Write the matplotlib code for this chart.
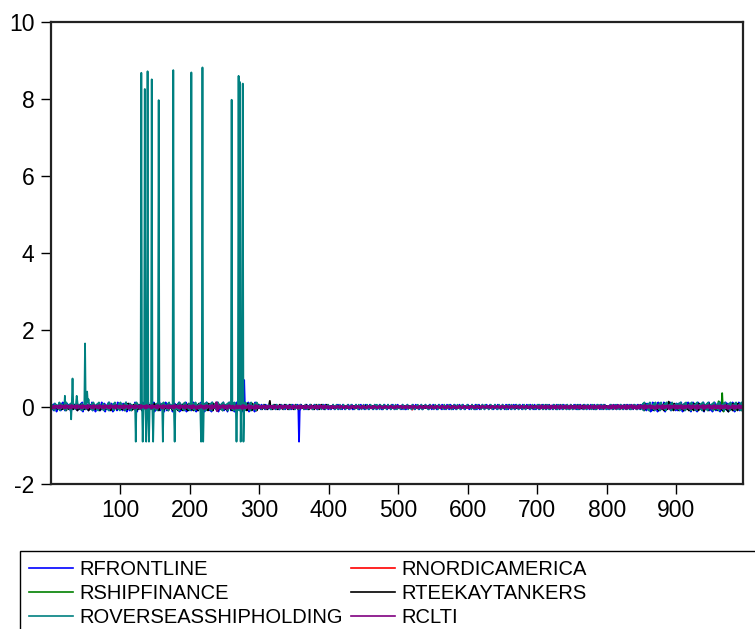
import numpy as np
import matplotlib
matplotlib.use("Agg")
import matplotlib.pyplot as plt
from matplotlib.patches import Rectangle

# ------------------------------------------------------------
# Data: daily returns of six shipping stocks, obs 1..995
# Noise is typed as digit strings (digit 5 = 0), one char per obs,
# scaled per series; the large moves are listed separately.
# ------------------------------------------------------------
N = 995

names = ["RFRONTLINE", "RNORDICAMERICA", "RSHIPFINANCE",
         "RTEEKAYTANKERS", "ROVERSEASSHIPHOLDING", "RCLTI"]
colors = ["#0000FF", "#FF0000", "#008000", "#000000", "#008080", "#800080"]

frontline_noise = [
    "5372846155736284956273847562193847566253748291657384625573928461573846259374816573924685173846295738",
    "4628375916482735647392815647382956471829365748291637485926374815962738475619283746591827364859172635",
    "6283947516273849562718394657281936475829163748592637418596273841569273845619287354691827364519283746",
    "5374665374435746356645374653374556473645537463574436657453374665543746357446537564335746657435746635",
    "4635575346647355463765344657356473354675463357465534756435746653475536447563354765437556346754356475",
    "5546374563357465543674537546635475346574453675534765463357465374563457653476543576345567435674536457",
    "6354475635743567345675436574534765543675437565346754357463574536475374653754637546357465374563475364",
    "4735647365473564735463746537465374635746537463574635746357463754637465374635746537463574635746357463",
    "5463746537465374635746537463574635746357463754637465374628374615293847561928374659218374659283746528",
    "6284739516283745962817394652819374658291736485927361849527384619527384962817354692817364592837461928",
]
nordic_noise = [
    "5465546455645365465546456355465546455645536546554645563554654645564553654655464556355465464556455365",
    "4655463556456546355465546455635546546455653546455645536546554645563554654645564553654655464556355465",
    "5546455635546546455653546455645536546554645563554654645564553654655464556355465464556455365465546456",
    "5564554655465546455645546556455465546455645546556455465546455645546556455465546455645546556455465546",
    "5455465546556455465545655465545655465546556455465545655465545655465546556455465545655465545655465546",
    "5546556455465545655465545655465546556455465545655465545655465546556455465545655465545655465546556455",
    "4655465545655465546556455465545655465545655465546556455465545655465545655465546556455465545655465545",
    "5546455635546546455653546455645536546554645563554654645564553654655464556355465464556455365465546456",
    "4655463556456546355465546455635546546455653546455645536546554645563554654645564553654655464556355465",
    "5465546455645365465546456355465546455645536546554645563554654645564553654655464556355465464556455365",
]
shipfinance_noise = [
    "5364756453647564536475643657465364756436574653647564365746536475643657465364756436574653647564365746",
    "4657365463746536475463756453647563546375645364756354637564536475635463756453647563546375645364756354",
    "5463746536475463756453647563546375645364756354637564536475635463756453647563546375645364756354637564",
    "5546455645546465545654646554564554655456465545645546556454655464554656455465546456545655465464554654",
    "4565546456554645565465455646554656455465564545654655465645546556465455646556454656455645546565465545",
    "5654645565465455645654656455464655456546455645565464554656546455465564654554656455645546456554645565",
    "4655465645545665464554656455465546564554656454655465645565464556456546554645565465455645564655465645",
    "5463746536475463756453647563546375645364756354637564536475635463756453647563546375645364756354637564",
    "5463746536475463756453647563546375645364756354637462837465382746537284653748263748562738465372846537",
    "5374628465372846537482637485627384652738465372846537482638475627384653728465374826374856273846537284",
]
teekay_noise = [
    "5465375463756453647562546375645364756254637564536475625463756453647562546375645364756254637564536475",
    "6354725463847562537465283746592837465283746553728465372846537284653728465372846537284653728465372846",
    "4637285463728456372845637284563728456372845637284563728456372845637284563728456372845637284563728456",
    "5463647556364755463647556364755463647556364755463647556364755463647556364755463647556364755463647556",
    "5546545565455645546556455465545655465545656455465554655645545655456554655465545655465546554565545654",
    "5465545654655465546556455465546554565546554655645546554655465545655465546556455465546554655645546556",
    "4556545655465546554565546554655645546554655465545655465546556455465546554655645546554655465545655465",
    "5546554655645546554655465545655465546556455465546554655645546554655465545655465546556455465546554656",
    "5546554655645546554655465545655465546556455465546563728456372845637284563728456372845637284563728456",
    "6372845637284563728456372845637284563728456372845637284563728456372845637284563728456372845637284563",
]
overseas_noise = [
    "3746285746392847563829475638294756382947563827465382947563829475638294756382746538294756382947563829",
    "4756382947563827465382947563829475638294756382746538294756382947563829475638274653829475638294756382",
    "5647382946573829465738294657382946573829465738294657382946573829465738294657382946573829465738294657",
    "5536475536447563354765437556346754356475463357465534756435746653475536447563354765437556346754356475",
    "6354475635743567345675436574534765543675437565346754357463574536475374653754637546357465374563475364",
    "4635575346647355463765344657356473354675463357465534756435746653475536447563354765437556346754356475",
    "5546374563357465543674537546635475346574453675534765463357465374563457653476543576345567435674536457",
    "5374665374435746356645374653374556473645537463574436657453374665543746357446537564335746657435746635",
    "4635575346647355463765344657356473354675463357465538295647382956473829564738295647382956473829564738",
    "5738294657382946573829465738294657382946573829465738294657382946573829465738294657382946573829465738",
]
clti_noise = [
    "4637285647382956473829564738295647382956473829564738295647382956473829564738295647382956473829564738",
    "5738294657382946573829465738294657382946573829465738294657382946573829465738294657382946573829465738",
    "6283947516273849562718394657281936475829163748592637418596273841569273845619287354691827364519283746",
    "4637485627364857463728465374658263748562738465273846537462837465382746537284653748263748562738465372",
    "5463746536475463756453647563546375645364756354637564536475635463756453647563546375645364756354637564",
    "4657365463746536475463756453647563546375645364756354637564536475635463756453647563546375645364756354",
    "5364756453647564536475643657465364756436574653647564365746536475643657465364756436574653647564365746",
    "4637285463728456372845637284563728456372845637284563728456372845637284563728456372845637284563728456",
    "5374628395617384956273845619273846592837416529384756192837465928374615293847561928374659218374659283",
    "6284739516283745962817394652819374658291736485927361849527384619527384962817354692817364592837461928",
]
noise_rows = [frontline_noise, nordic_noise, shipfinance_noise,
              teekay_noise, overseas_noise, clti_noise]
noise_scale = [0.03, 0.015, 0.022, 0.03, 0.03, 0.011]

# large moves: (observation, return)
frontline_obs = [278, 357]
frontline_val = [0.70, -0.90]
nordic_obs = [296, 520]
nordic_val = [-0.09, -0.07]
shipfinance_obs = [961, 966, 968]
shipfinance_val = [0.15, 0.36, -0.12]
teekay_obs = [315, 889, 940, 975]
teekay_val = [0.16, 0.14, -0.10, -0.12]
overseas_obs = [20, 29, 31, 37, 49, 52, 54, 122, 130, 132, 135, 137, 139, 141,
                145, 147, 155, 161, 176, 178, 202, 216, 218, 219, 260, 267,
                270, 272, 273, 276, 277]
overseas_val = [0.29, -0.32, 0.74, 0.29, 1.65, 0.40, 0.20, -0.90, 8.68, -0.90,
                8.26, -0.90, 8.72, -0.90, 8.51, -0.90, 7.97, -0.90, 8.75, -0.90,
                8.69, -0.90, 8.82, -0.90, 7.98, -0.90, 8.60, 8.44, -0.90, 8.40,
                -0.90]
clti_obs = [238, 239]
clti_val = [0.12, -0.10]

spike_obs = [frontline_obs, nordic_obs, shipfinance_obs, teekay_obs, overseas_obs, clti_obs]
spike_val = [frontline_val, nordic_val, shipfinance_val, teekay_val, overseas_val, clti_val]


def build(rows, scale, obs, val):
    s = ("".join(rows) + "5" * N)[:N]
    y = (np.array([int(c) for c in s], dtype=float) - 5.0) * scale
    for o, v in zip(obs, val):
        y[o - 1] = v
    return y


x = np.arange(1, N + 1)
series = [build(r, sc, o, v) for r, sc, o, v in zip(noise_rows, noise_scale, spike_obs, spike_val)]

# ------------------------------------------------------------
# Plot
# ------------------------------------------------------------
plt.rcParams["font.family"] = ["Liberation Sans", "DejaVu Sans"]
plt.rcParams["axes.unicode_minus"] = False

W, H = 755, 629
fig = plt.figure(figsize=(W / 100, H / 100), dpi=100)
ax = fig.add_axes([51 / W, 1 - 484 / H, (743 - 51) / W, (484 - 22) / H])

lines = []
widths = [1.3, 1.3, 1.3, 1.3, 1.3, 1.7]
for y, c, name, w in zip(series, colors, names, widths):
    ln, = ax.plot(x, y, color=c, lw=w, label=name)
    lines.append(ln)

ax.set_xlim(0, 996)
ax.set_ylim(-2, 10)
ax.set_xticks([100, 200, 300, 400, 500, 600, 700, 800, 900])
ax.set_yticks([-2, 0, 2, 4, 6, 8, 10])
ax.tick_params(axis="both", direction="out", length=7, width=1.0,
               labelsize=16.5, colors="black", pad=4)
ax.tick_params(axis="y", pad=5)
for sp in ax.spines.values():
    sp.set_linewidth(1.6)
    sp.set_color("#222222")

# legend is row-major in the original: reorder for column-major fill
order = [0, 2, 4, 1, 3, 5]
leg = fig.legend([lines[i] for i in order], [names[i] for i in order],
                 loc="upper left", bbox_to_anchor=(20 / W, 1 - 551 / H),
                 ncol=2, frameon=False,
                 prop={"size": 14.5}, handlelength=2.2, handletextpad=0.3,
                 columnspacing=0.4, labelspacing=0.25, borderpad=0.45,
                 borderaxespad=0)
for h in leg.legend_handles:
    h.set_linewidth(1.2)

# legend box runs past the right and bottom edges of the picture
fig.add_artist(Rectangle((20 / W, -0.05), 1.0, 1 - 551 / H + 0.05,
                         transform=fig.transFigure, fill=False,
                         edgecolor="black", lw=1.0, clip_on=False))

fig.savefig("out.png", dpi=100)
